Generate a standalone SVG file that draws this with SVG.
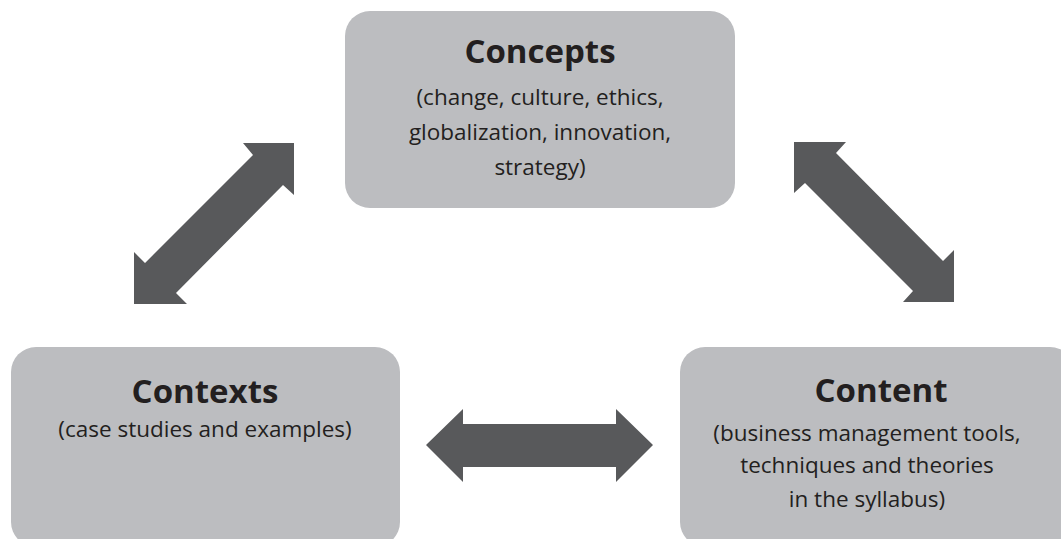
<svg xmlns="http://www.w3.org/2000/svg" width="1061" height="539" viewBox="0 0 1061 539">
<style>
.box{fill:#bcbdc0}
.arr{fill:#58595b}
.t{font-family:"Open Sans","Liberation Sans",sans-serif;font-weight:bold;font-size:33px;fill:#231f20;text-anchor:middle}
.s{font-family:"Open Sans","Liberation Sans",sans-serif;font-size:22.5px;fill:#231f20;text-anchor:middle}
</style>
<rect width="1061" height="539" fill="#ffffff"/>
<g id="connectors">
<polygon class="arr" points="294,143 294,195 283,185 176,293 187,304 134,304 134,252 145,263 253,155 243,143"/>
<polygon class="arr" points="794,142 846,142 836,153 943,261 954,250 954,302 903,302 913,291 805,183 794,193"/>
<polygon class="arr" points="426,445 463,409 463,424 616,424 616,409 653,445 616,482 616,467 463,467 463,482"/>
</g>
<g id="concepts">
<rect class="box" x="345" y="11" width="390" height="197" rx="25"/>
<text class="t" x="540" y="63">Concepts</text>
<text class="s" x="540" y="105">(change, culture, ethics,</text>
<text class="s" x="540" y="140">globalization, innovation,</text>
<text class="s" x="540" y="175">strategy)</text>
</g>
<g id="contexts">
<rect class="box" x="11" y="347" width="389" height="200" rx="25"/>
<text class="t" x="205" y="403">Contexts</text>
<text class="s" x="205" y="437">(case studies and examples)</text>
</g>
<g id="content">
<rect class="box" x="680" y="347" width="395" height="200" rx="25"/>
<text class="t" x="881" y="402">Content</text>
<text class="s" x="867" y="441">(business management tools,</text>
<text class="s" x="867" y="473">techniques and theories</text>
<text class="s" x="867" y="507">in the syllabus)</text>
</g>
</svg>
